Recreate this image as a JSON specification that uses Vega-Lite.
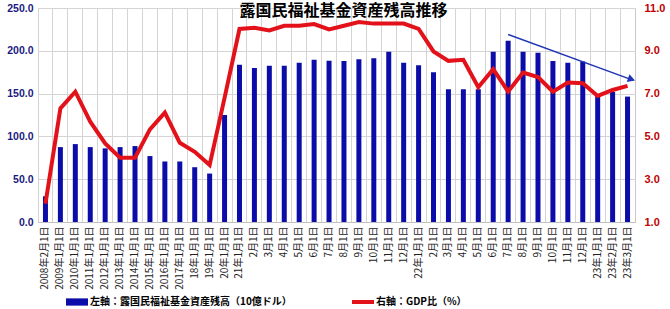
{
  "$schema": "https://vega.github.io/schema/vega-lite/v6.json",
  "autosize": {"type": "none"},
  "width": 597,
  "height": 214,
  "padding": {"left": 38, "top": 8, "right": 35, "bottom": 87},
  "background": "white",
  "config": {"view": {"stroke": "#c8c8c8"}},
  "title": {
    "text": "露国民福祉基金資産残高推移",
    "anchor": "middle",
    "frame": "group",
    "offset": 0,
    "baseline": "top",
    "dy": 17,
    "dx": 7,
    "font": "Noto Sans CJK JP",
    "fontSize": 16,
    "fontWeight": "bold",
    "color": "black"
  },
  "datasets": {
    "main": [
      {"d": "2008年2月1日", "assets": 30, "gdp": 1.86},
      {"d": "2009年1月1日", "assets": 87.5, "gdp": 6.31},
      {"d": "2010年1月1日", "assets": 91, "gdp": 7.09},
      {"d": "2011年1月1日", "assets": 87.5, "gdp": 5.69},
      {"d": "2012年1月1日", "assets": 86, "gdp": 4.67},
      {"d": "2013年1月1日", "assets": 87.5, "gdp": 4.0},
      {"d": "2014年1月1日", "assets": 88.7, "gdp": 4.0},
      {"d": "2015年1月1日", "assets": 77, "gdp": 5.33},
      {"d": "2016年1月1日", "assets": 70.7, "gdp": 6.11},
      {"d": "2017年1月1日", "assets": 70.7, "gdp": 4.7},
      {"d": "18年1月1日", "assets": 64, "gdp": 4.28},
      {"d": "19年1月1日", "assets": 56.6, "gdp": 3.66},
      {"d": "20年1月1日", "assets": 125, "gdp": 6.8},
      {"d": "21年1月1日", "assets": 183.6, "gdp": 10.02},
      {"d": "2月1日", "assets": 180, "gdp": 10.08},
      {"d": "3月1日", "assets": 182.4, "gdp": 9.95},
      {"d": "4月1日", "assets": 182.4, "gdp": 10.17},
      {"d": "5月1日", "assets": 186, "gdp": 10.17},
      {"d": "6月1日", "assets": 189.5, "gdp": 10.25},
      {"d": "7月1日", "assets": 188.3, "gdp": 10.0},
      {"d": "8月1日", "assets": 188, "gdp": 10.17},
      {"d": "9月1日", "assets": 190, "gdp": 10.34},
      {"d": "10月1日", "assets": 191.4, "gdp": 10.27},
      {"d": "11月1日", "assets": 198.8, "gdp": 10.27},
      {"d": "12月1日", "assets": 186, "gdp": 10.27},
      {"d": "22年1月1日", "assets": 183, "gdp": 10.02},
      {"d": "2月1日\u200b", "assets": 175, "gdp": 8.97},
      {"d": "3月1日\u200b", "assets": 155, "gdp": 8.53},
      {"d": "4月1日\u200b", "assets": 155, "gdp": 8.58},
      {"d": "5月1日\u200b", "assets": 155, "gdp": 7.3},
      {"d": "6月1日\u200b", "assets": 198.8, "gdp": 8.14},
      {"d": "7月1日\u200b", "assets": 211.7, "gdp": 7.09},
      {"d": "8月1日\u200b", "assets": 198.8, "gdp": 7.98},
      {"d": "9月1日\u200b", "assets": 197.7, "gdp": 7.77},
      {"d": "10月1日\u200b", "assets": 188, "gdp": 7.09},
      {"d": "11月1日\u200b", "assets": 186, "gdp": 7.52},
      {"d": "12月1日\u200b", "assets": 187.5, "gdp": 7.48},
      {"d": "23年1月1日", "assets": 148, "gdp": 6.89},
      {"d": "23年2月1日", "assets": 152, "gdp": 7.17},
      {"d": "23年3月1日", "assets": 146.5, "gdp": 7.36}
    ],
    "arrow": [
      {"d": "7月1日\u200b", "y": 219, "d2": "23年3月1日", "y2": 165.5}
    ]
  },
  "layer": [
    {
      "layer": [
        {
          "data": {"name": "main"},
          "mark": {"type": "bar", "size": 5},
          "encoding": {
            "x": {
              "field": "d", "type": "nominal", "sort": null,
              "scale": {"paddingInner": 0, "paddingOuter": 0},
              "axis": {
                "title": null, "labelAngle": -90, "labelFont": "Noto Sans CJK JP",
                "labelFontSize": 10, "labelColor": "#222222", "ticks": false,
                "grid": true, "bandPosition": 0, "gridColor": "#d4d4d4",
                "domainColor": "#c0c0c0", "labelPadding": 4
              }
            },
            "y": {
              "field": "assets", "type": "quantitative",
              "scale": {"domain": [0, 250], "nice": false},
              "axis": {
                "title": null, "orient": "left", "values": [0, 50, 100, 150, 200, 250],
                "format": ".1f", "labelColor": "#1a1a80", "labelFontWeight": "bold",
                "labelFont": "Liberation Sans", "labelFontSize": 10.5,
                "labelPadding": 5, "ticks": false, "domain": false,
                "grid": true, "gridColor": "#d4d4d4"
              }
            },
            "color": {
              "datum": "左軸：露国民福祉基金資産残高（10億ドル）",
              "type": "nominal",
              "scale": {
                "domain": ["左軸：露国民福祉基金資産残高（10億ドル）", "右軸：GDP比（%）"],
                "range": ["#0c0ca8", "#e3121a"]
              },
              "legend": {
                "title": null, "orient": "none", "legendX": 28, "legendY": 283,
                "direction": "horizontal", "columns": 2, "columnPadding": 60,
                "symbolSize": 484, "symbolStrokeWidth": 0,
                "labelFont": "Noto Sans CJK JP", "labelFontSize": 10,
                "labelFontWeight": "bold", "labelColor": "black",
                "labelLimit": 400, "labelOffset": 2,
                "encode": {
                  "symbols": {
                    "update": {
                      "shape": {"signal": "datum.value === '右軸：GDP比（%）' ? 'M-1,-0.18H1V0.18H-1Z' : 'M-1,-0.33H1V0.33H-1Z'"},
                      "fill": {"signal": "datum.value === '右軸：GDP比（%）' ? '#e3121a' : '#1a1ab8'"},
                      "strokeWidth": {"value": 0},
                      "opacity": {"value": 1}
                    }
                  }
                }
              }
            }
          }
        },
        {
          "data": {"name": "arrow"},
          "mark": {"type": "rule", "color": "#1f35b5", "strokeWidth": 1.5, "x2Offset": 6},
          "encoding": {
            "x": {"field": "d", "type": "nominal", "sort": null},
            "x2": {"field": "d2"},
            "y": {"field": "y", "type": "quantitative", "scale": {"domain": [0, 250], "nice": false}},
            "y2": {"field": "y2"}
          }
        },
        {
          "data": {"name": "arrow"},
          "mark": {"type": "point", "shape": "triangle-right", "filled": true, "color": "#1f35b5", "opacity": 1, "size": 70, "angle": 19, "xOffset": 4, "yOffset": -1},
          "encoding": {
            "x": {"field": "d2", "type": "nominal", "sort": null},
            "y": {"field": "y2", "type": "quantitative", "scale": {"domain": [0, 250], "nice": false}}
          }
        }
      ]
    },
    {
      "data": {"name": "main"},
      "mark": {"type": "line", "strokeWidth": 4},
      "encoding": {
        "x": {"field": "d", "type": "nominal", "sort": null},
        "y": {
          "field": "gdp", "type": "quantitative",
          "scale": {"domain": [1, 11], "nice": false},
          "axis": {
            "title": null, "orient": "right", "values": [1, 3, 5, 7, 9, 11],
            "format": ".1f", "labelColor": "#c00000", "labelFontWeight": "bold",
            "labelFont": "Liberation Sans", "labelFontSize": 11,
            "labelPadding": 9, "ticks": false, "domain": false, "grid": false
          }
        },
        "color": {"datum": "右軸：GDP比（%）", "type": "nominal"}
      }
    }
  ],
  "resolve": {"scale": {"y": "independent"}}
}
